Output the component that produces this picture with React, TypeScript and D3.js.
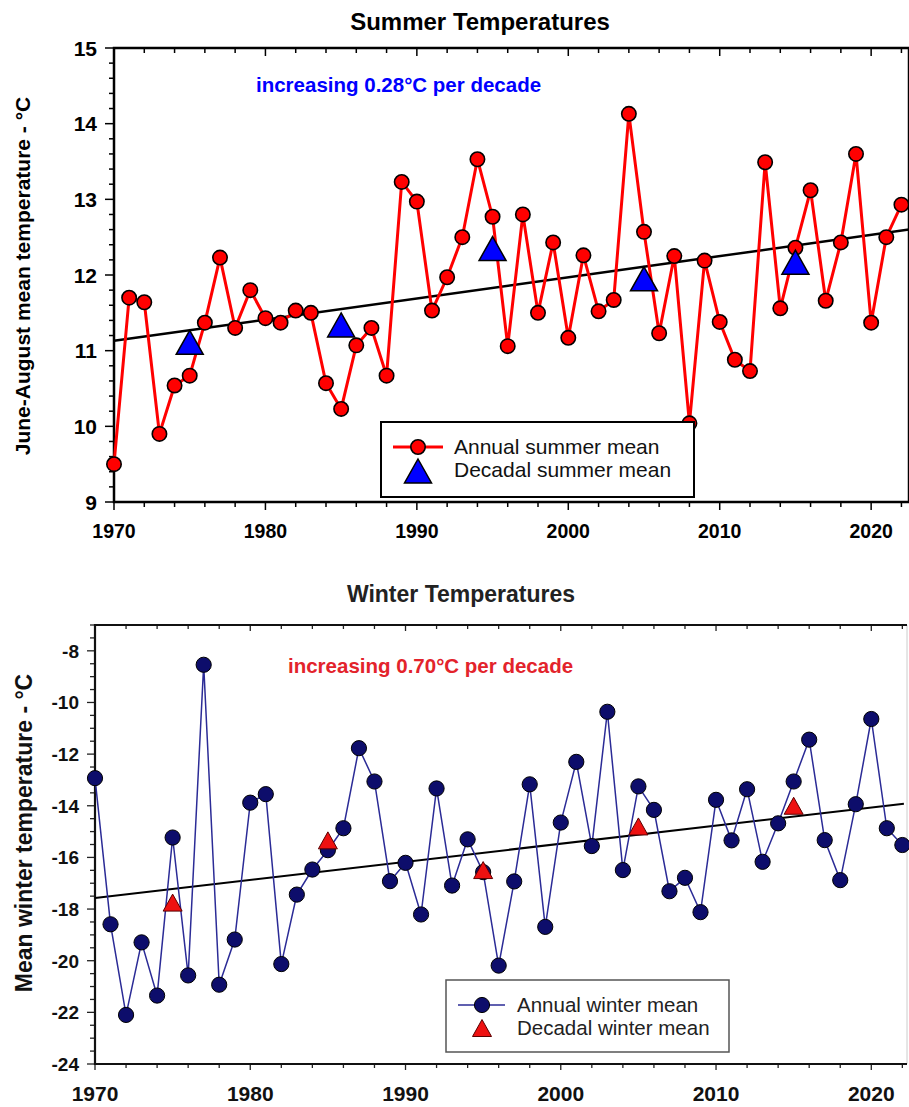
import React from 'react'
import * as d3 from 'd3'

// years shared by both panels
const years = d3.range(1970, 2023)

const summerMean = [
  9.5, 11.7, 11.64, 9.9, 10.54, 10.67, 11.37, 12.23, 11.3, 11.8,
  11.43, 11.37, 11.53, 11.5, 10.57, 10.23, 11.07, 11.3, 10.67, 13.23,
  12.97, 11.53, 11.97, 12.5, 13.53, 12.77, 11.06, 12.8, 11.5, 12.43,
  11.17, 12.26, 11.52, 11.67, 14.13, 12.57, 11.23, 12.25, 10.04, 12.19,
  11.38, 10.88, 10.73, 13.49, 11.56, 12.36, 13.12, 11.66, 12.43, 13.6,
  11.37, 12.5, 12.93,
]

const winterMean = [
  -12.93, -18.59, -22.1, -19.29, -21.35, -15.23, -20.57, -8.54, -20.93, -19.18,
  -13.88, -13.55, -20.13, -17.44, -16.47, -15.72, -14.87, -11.77, -13.06, -16.92,
  -16.21, -18.21, -13.33, -17.09, -15.3, -16.57, -20.19, -16.93, -13.17, -18.69,
  -14.65, -12.3, -15.56, -10.36, -16.49, -13.25, -14.16, -17.31, -16.79, -18.12,
  -13.77, -15.34, -13.36, -16.17, -14.68, -13.06, -11.44, -15.33, -16.88, -13.94,
  -10.64, -14.87, -15.52,
]

const decadeMid = [1975, 1985, 1995, 2005, 2015]
const summerDecadal = [11.11, 11.34, 12.35, 11.95, 12.17]
const winterDecadal = [-17.75, -15.34, -16.49, -14.8, -14.0]

// linear trends: value at 1970 and change per decade
const summerTrend = { start: 11.13, perDecade: 0.28, end: 2022.5 }
const winterTrend = { start: -17.57, perDecade: 0.7, end: 2022.1 }

const summerYTicks = d3.range(9, 15.01, 1)
const winterYTicks = d3.range(-24, -7.9, 2)
const xLabels = [1970, 1980, 1990, 2000, 2010, 2020]

const FONT = '"Liberation Sans", Arial, Helvetica, sans-serif'

function tri(cx: number, cy: number, w: number, h: number) {
  return `M${cx},${cy - h / 2}L${cx + w / 2},${cy + h / 2}L${cx - w / 2},${cy + h / 2}Z`
}

function SummerPanel() {
  const x = d3.scaleLinear().domain([1970, 2022.5]).range([114, 909])
  const y = d3.scaleLinear().domain([9, 15]).range([502, 48])
  const line = d3.line<number>().x((_, i) => x(years[i])).y(d => y(d))
  const trendYears = [1970, summerTrend.end]
  const minorY = d3.range(9, 15.001, 0.2)
  const xt = d3.range(1970, 2023, 2)

  return (
    <g>
      <text x={480} y={30} textAnchor="middle" fontSize={24} fontWeight="bold">Summer Temperatures</text>
      <text transform="translate(30,276) rotate(-90)" textAnchor="middle" fontSize={21} fontWeight="bold">
        June-August mean temperature - °C
      </text>
      <text x={256} y={92} fontSize={20.5} fontWeight="bold" fill="#0000ff">increasing 0.28°C per decade</text>

      {/* y ticks */}
      {minorY.map((v, i) => {
        const major = Math.abs(v - Math.round(v)) < 0.01
        return <line key={'ym' + i} x1={x(1970) - (major ? 9 : 5)} x2={x(1970)} y1={y(v)} y2={y(v)} stroke="#000" strokeWidth={1.5} />
      })}
      {summerYTicks.map(v => (
        <text key={'yl' + v} x={97} y={y(v)} dy="0.36em" textAnchor="end" fontSize={21} fontWeight="bold">{v}</text>
      ))}
      {/* x ticks */}
      {xt.map(t => {
        const major = t % 10 === 0
        return (
          <g key={'xt' + t}>
            <line x1={x(t)} x2={x(t)} y1={502} y2={502 + (major ? 8 : 5)} stroke="#000" strokeWidth={1.5} />
            <line x1={x(t)} x2={x(t)} y1={48} y2={48 + (major ? 8 : 5)} stroke="#000" strokeWidth={1.5} />
          </g>
        )
      })}
      {xLabels.map(t => (
        <text key={'xl' + t} x={x(t)} y={538} textAnchor="middle" fontSize={19.5} fontWeight="bold">{t}</text>
      ))}
      <rect x={114} y={48} width={795} height={454} fill="none" stroke="#000" strokeWidth={2.5} />

      <line x1={x(trendYears[0])} y1={y(summerTrend.start)}
        x2={x(trendYears[1])} y2={y(summerTrend.start + summerTrend.perDecade * (trendYears[1] - 1970) / 10)}
        stroke="#000" strokeWidth={2.5} />

      <path d={line(summerMean) || ''} fill="none" stroke="#ff0000" strokeWidth={3} />
      {summerMean.map((v, i) => (
        <circle key={'sc' + i} cx={x(years[i])} cy={y(v)} r={7.2} fill="#ff0000" stroke="#000" strokeWidth={1.6} />
      ))}
      {summerDecadal.map((v, i) => (
        <path key={'st' + i} d={tri(x(decadeMid[i]), y(v), 27, 24)} fill="#0000ff" stroke="#000" strokeWidth={1.5} />
      ))}

      {/* legend */}
      <rect x={381} y={422} width={313} height={75} fill="#fff" stroke="#000" strokeWidth={2} />
      <line x1={393} x2={443} y1={447} y2={447} stroke="#ff0000" strokeWidth={3} />
      <circle cx={418} cy={447} r={7.2} fill="#ff0000" stroke="#000" strokeWidth={1.6} />
      <path d={tri(418, 471, 27, 24)} fill="#0000ff" stroke="#000" strokeWidth={1.5} />
      <text x={454} y={454} fontSize={21} fill="#111">Annual summer mean</text>
      <text x={454} y={477} fontSize={21} fill="#111">Decadal summer mean</text>
    </g>
  )
}

function WinterPanel() {
  const x = d3.scaleLinear().domain([1970, 2022.3]).range([95, 907])
  const y = d3.scaleLinear().domain([-24, -7]).range([1064, 625])
  const line = d3.line<number>().x((_, i) => x(years[i])).y(d => y(d))
  const trendYears = [1970, winterTrend.end]
  const minorY = d3.range(-24, -6.99, 0.5)
  const xt = d3.range(1970, 2023, 2)

  return (
    <g>
      <text x={461} y={602} textAnchor="middle" fontSize={23} fontWeight="bold" fill="#222">Winter Temperatures</text>
      <text transform="translate(32,833) rotate(-90)" textAnchor="middle" fontSize={23} fontWeight="bold" fill="#111">
        Mean winter temperature - °C
      </text>
      <text x={288} y={673} fontSize={20.5} fontWeight="bold" fill="#e3232b">increasing 0.70°C per decade</text>

      {minorY.map((v, i) => {
        const major = Math.abs(v / 2 - Math.round(v / 2)) < 0.01
        return <line key={'ym' + i} x1={x(1970) - (major ? 8 : 5)} x2={x(1970)} y1={y(v)} y2={y(v)} stroke="#222" strokeWidth={1.3} />
      })}
      {winterYTicks.map(v => (
        <text key={'yl' + v} x={79} y={y(v)} dy="0.36em" textAnchor="end" fontSize={19} fontWeight="bold" fill="#111">{v}</text>
      ))}
      {xt.map(t => {
        const major = t % 10 === 0
        return (
          <g key={'xt' + t}>
            <line x1={x(t)} x2={x(t)} y1={1064} y2={1064 + (major ? 6 : 4)} stroke="#222" strokeWidth={1.3} />
            <line x1={x(t)} x2={x(t)} y1={625} y2={625 + (major ? 6 : 4)} stroke="#222" strokeWidth={1.3} />
          </g>
        )
      })}
      {xLabels.map(t => (
        <text key={'xl' + t} x={x(t)} y={1101} textAnchor="middle" fontSize={21} fontWeight="bold" fill="#111">{t}</text>
      ))}
      <line x1={907} x2={907} y1={625} y2={1064} stroke="#ccc" strokeWidth={1} />
      <path d="M907,625H95V1064H907" fill="none" stroke="#111" strokeWidth={2.2} />

      <line x1={x(trendYears[0])} y1={y(winterTrend.start)}
        x2={x(trendYears[1])} y2={y(winterTrend.start + winterTrend.perDecade * (trendYears[1] - 1970) / 10)}
        stroke="#000" strokeWidth={2} />

      <path d={line(winterMean) || ''} fill="none" stroke="#2b2b96" strokeWidth={1.5} />
      {winterMean.map((v, i) => (
        <circle key={'wc' + i} cx={x(years[i])} cy={y(v)} r={7.6} fill="#0d0d6b" stroke="#000" strokeWidth={1} />
      ))}
      {winterDecadal.map((v, i) => (
        <path key={'wt' + i} d={tri(x(decadeMid[i]), y(v), 19, 17)} fill="#ee1111" stroke="#5a0000" strokeWidth={1} />
      ))}

      <rect x={446} y={980} width={283} height={72} fill="#fff" stroke="#555" strokeWidth={1.5} />
      <line x1={458} x2={505} y1={1005} y2={1005} stroke="#2b2b96" strokeWidth={1.5} />
      <circle cx={482} cy={1005} r={7.6} fill="#0d0d6b" stroke="#000" strokeWidth={1} />
      <path d={tri(482, 1028, 19, 17)} fill="#ee1111" stroke="#5a0000" strokeWidth={1} />
      <text x={517} y={1012} fontSize={20.5} fill="#222">Annual winter mean</text>
      <text x={517} y={1035} fontSize={20.5} fill="#222">Decadal winter mean</text>
    </g>
  )
}

export default function App() {
  return (
    <svg width={909} height={1107} viewBox="0 0 909 1107"
      style={{ position: 'absolute', left: 0, top: 0, background: '#fff', fontFamily: FONT }}>
      <rect width={909} height={1107} fill="#fff" />
      <SummerPanel />
      <WinterPanel />
    </svg>
  )
}
